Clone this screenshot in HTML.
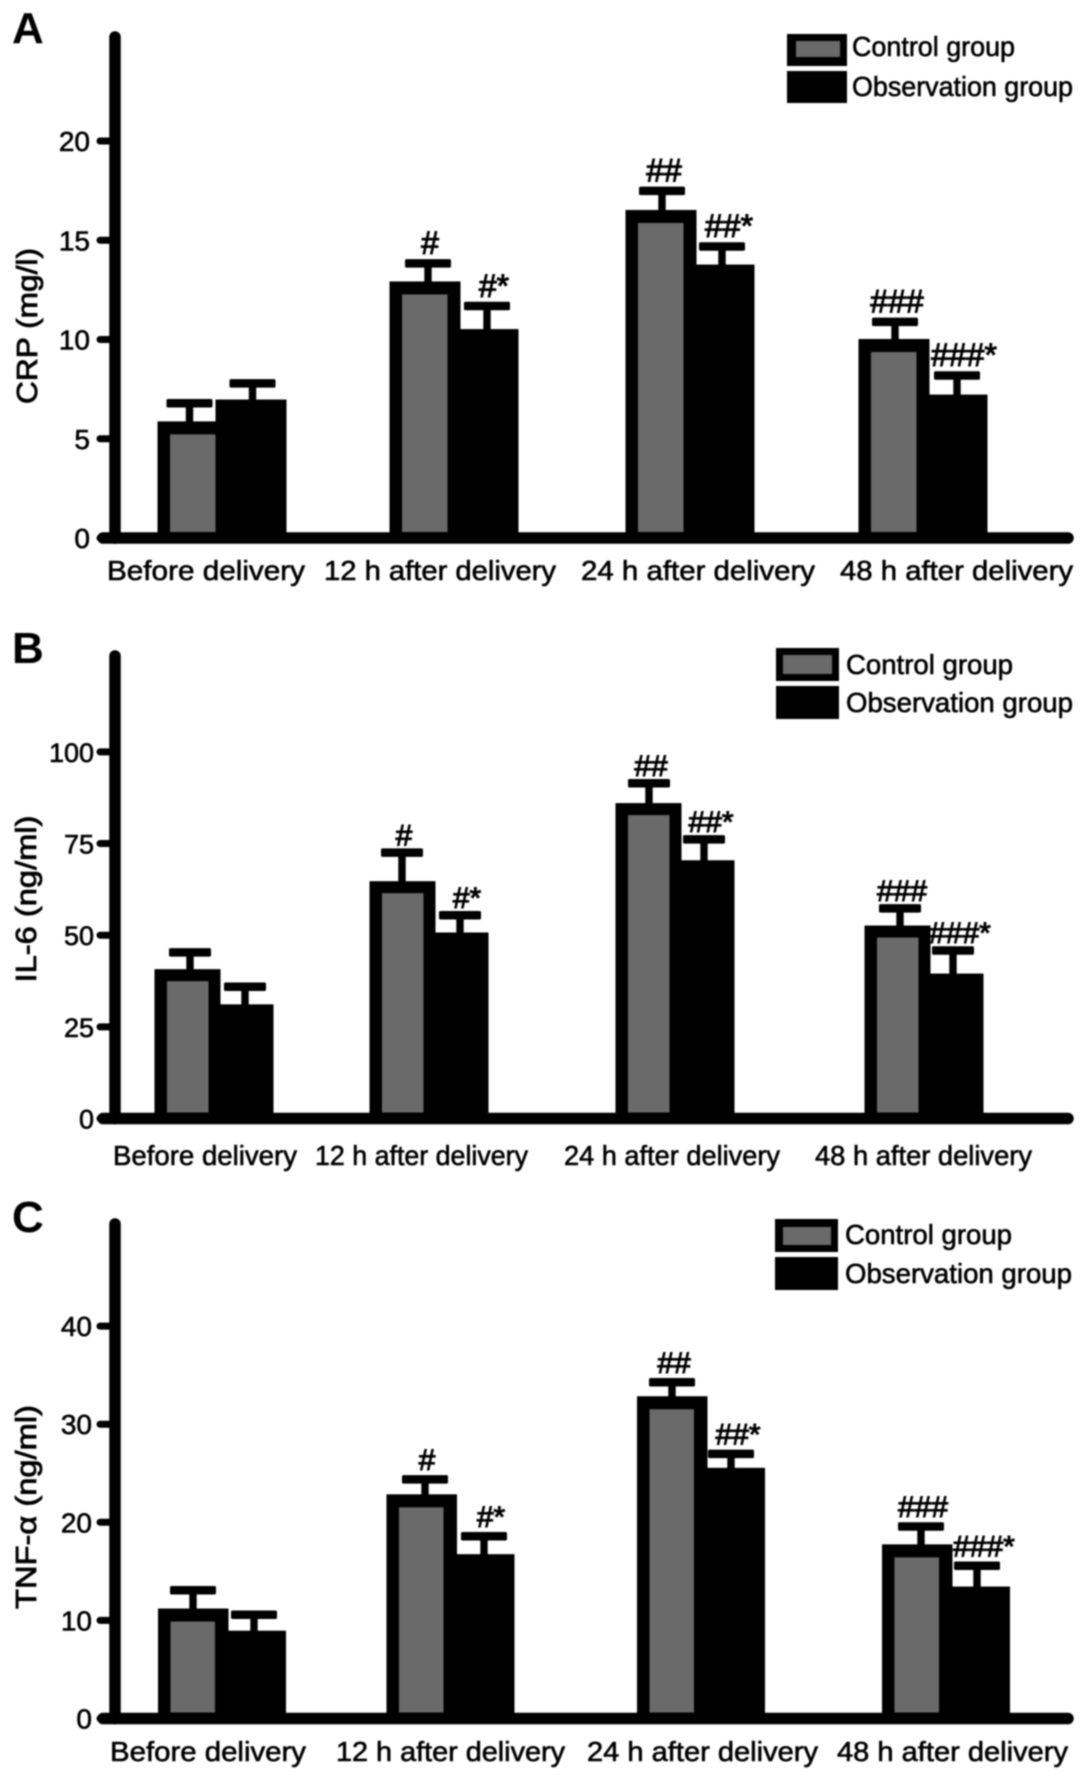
<!DOCTYPE html>
<html lang="en">
<head>
<meta charset="utf-8">
<title>CRP, IL-6 and TNF-α by group</title>
<style>
  html, body { margin: 0; padding: 0; background: #fff; }
  body { width: 1087px; height: 1782px; overflow: hidden; }
  svg { display: block; filter: blur(0.8px); }
  text { font-family: "Liberation Sans", "DejaVu Sans", sans-serif; fill: #000; stroke: #000; stroke-width: 0.6px; }
  .panel-letter { font-weight: bold; font-size: 44px; stroke-width: 0; }
  .legend-text { font-size: 28px; }
  .axis-title { font-size: 29px; stroke-width: 0.8px; }
  .mark { stroke-width: 1px; }
</style>
</head>
<body>
<svg id="figure" xmlns="http://www.w3.org/2000/svg" width="1087" height="1782" viewBox="0 0 1087 1782">
  <rect x="0" y="0" width="1087" height="1782" fill="#ffffff"/>

  <g id="panel-a">
    <text class="panel-letter" x="12" y="43">A</text>
    <text class="axis-title" transform="translate(37,326) rotate(-90)" text-anchor="middle" textLength="156" lengthAdjust="spacingAndGlyphs">CRP (mg/l)</text>
    <g>
      <rect x="787" y="34" width="60" height="32" fill="#000"/>
      <rect x="796" y="41" width="44" height="16" fill="#6a6a6a"/>
      <rect x="787" y="71" width="60" height="32" fill="#000"/>
      <text class="legend-text" x="852" y="56" textLength="163" lengthAdjust="spacingAndGlyphs">Control group</text>
      <text class="legend-text" x="852" y="96" textLength="221" lengthAdjust="spacingAndGlyphs">Observation group</text>
    </g>
  </g>

  <g id="panel-b">
    <text class="panel-letter" x="12" y="663">B</text>
    <text class="axis-title" transform="translate(36,899) rotate(-90)" text-anchor="middle" textLength="167" lengthAdjust="spacingAndGlyphs">IL-6 (ng/ml)</text>
    <g>
      <rect x="776" y="648" width="63" height="33" fill="#000"/>
      <rect x="783" y="655" width="49" height="19" fill="#6a6a6a"/>
      <rect x="776" y="686" width="63" height="33" fill="#000"/>
      <text class="legend-text" x="846" y="674" textLength="167" lengthAdjust="spacingAndGlyphs">Control group</text>
      <text class="legend-text" x="846" y="712" textLength="227" lengthAdjust="spacingAndGlyphs">Observation group</text>
    </g>
  </g>

  <g id="panel-c">
    <text class="panel-letter" x="12" y="1232">C</text>
    <text class="axis-title" transform="translate(36,1507) rotate(-90)" text-anchor="middle" textLength="204" lengthAdjust="spacingAndGlyphs">TNF-α (ng/ml)</text>
    <g>
      <rect x="775" y="1219" width="63" height="33" fill="#000"/>
      <rect x="783" y="1227" width="48" height="18" fill="#6a6a6a"/>
      <rect x="775" y="1257" width="63" height="33" fill="#000"/>
      <text class="legend-text" x="845" y="1244" textLength="167" lengthAdjust="spacingAndGlyphs">Control group</text>
      <text class="legend-text" x="845" y="1283" textLength="227" lengthAdjust="spacingAndGlyphs">Observation group</text>
    </g>
  </g>
</svg>

<script>
const categories = ['Before delivery', '12 h after delivery', '24 h after delivery', '48 h after delivery'];
const controlMarks = ['', '#', '##', '###'];
const observationMarks = ['', '#*', '##*', '###*'];

const crpTicks = [0, 5, 10, 15, 20];
const crpControl = [5.85, 12.9, 16.5, 10.0];
const crpObservation = [6.95, 10.5, 13.75, 7.2];
const crpControlUpper = [6.8, 13.85, 17.5, 10.9];
const crpObservationUpper = [7.8, 11.7, 14.7, 8.2];

const il6Ticks = [0, 25, 50, 75, 100];
const il6Control = [40.6, 64.6, 85.9, 52.5];
const il6Observation = [31, 50.6, 70.3, 39.4];
const il6ControlUpper = [45.4, 72.6, 91.5, 57.4];
const il6ObservationUpper = [36, 55.5, 76.2, 45.9];

const tnfTicks = [0, 10, 20, 30, 40];
const tnfControl = [11.16, 22.8, 32.8, 17.7];
const tnfObservation = [8.9, 16.7, 25.5, 13.4];
const tnfControlUpper = [13.1, 24.4, 34.3, 19.6];
const tnfObservationUpper = [10.6, 18.6, 27, 15.6];

const SVG_NS = 'http://www.w3.org/2000/svg';

function make(parent, tag, attrs, text) {
  const node = document.createElementNS(SVG_NS, tag);
  Object.keys(attrs).forEach(function (k) { node.setAttribute(k, attrs[k]); });
  if (text !== undefined) node.textContent = text;
  parent.appendChild(node);
  return node;
}

function drawPanel(rootId, layout, ticks, control, observation, controlUpper, observationUpper) {
  const root = document.getElementById(rootId);
  const yScale = function (v) { return layout.y0 - v * layout.unit; };
  const bandCentre = function (i) { return layout.bands[i]; };
  const barTop = function (v) { return yScale(v) - 0.5; };
  const baselineTop = layout.y0 - 6;
  let el;

  el = make(root, 'line', { x1: 115, y1: layout.top, x2: 115, y2: layout.y0, stroke: '#000', 'stroke-width': 11.5, 'stroke-linecap': 'round' });
  
  

  ticks.forEach(function (t) {
    const tick = make(root, 'line', { x1: 100, y1: yScale(t), x2: 112, y2: yScale(t), stroke: '#000', 'stroke-width': 7, 'stroke-linecap': 'round' });
    
    
    const label = make(root, 'text', { x: layout.tickRight, y: yScale(t) + 10, 'text-anchor': 'end', 'font-size': layout.tickFont }, String(t));
    
    
  });

  categories.forEach(function (name, i) {
    const mid = bandCentre(i);

    const ctrlCapX = mid + layout.ctrlCap[i];
    const ctrlTop = barTop(control[i]);
    const ctrlUp = yScale(controlUpper[i]);
    const ctrlStem = make(root, 'rect', { x: ctrlCapX - 3.7, y: ctrlUp, width: 7.4, height: ctrlTop - ctrlUp + 2, fill: '#000' });
    
    
    const ctrlCap = make(root, 'rect', { x: ctrlCapX - layout.capHalf, y: ctrlUp - 4, width: layout.capHalf * 2, height: 8.5, rx: 1.5, fill: '#000' });
    
    

    const obsCapX = mid + layout.obsCap[i];
    const obsTop = barTop(observation[i]);
    const obsUp = yScale(observationUpper[i]);
    const obsStem = make(root, 'rect', { x: obsCapX - 3.7, y: obsUp, width: 7.4, height: obsTop - obsUp + 2, fill: '#000' });
    
    
    const obsCap = make(root, 'rect', { x: obsCapX - layout.capHalf, y: obsUp - 4, width: layout.capHalf * 2, height: 8.5, rx: 1.5, fill: '#000' });
    
    

    const ctrlBar = make(root, 'rect', { x: mid - layout.half, y: ctrlTop, width: layout.half + 6.5, height: layout.y0 - ctrlTop, fill: '#000' });
    
    
    const innerTop = ctrlTop + layout.border;
    const ctrlFill = make(root, 'rect', { x: mid - layout.half + 12.5, y: innerTop, width: layout.grayW, height: Math.max(0, baselineTop - innerTop), fill: '#6a6a6a' });
    
    

    const gapStart = mid - layout.half + 12.5 + layout.grayW;
    const obsBar = make(root, 'rect', { x: gapStart, y: obsTop, width: mid + layout.half - gapStart, height: layout.y0 - obsTop, fill: '#000' });
    
    

    if (controlMarks[i]) {
      const mark = make(root, 'text', { class: 'mark', x: ctrlCapX + 2, y: ctrlUp - layout.markGap, 'text-anchor': 'middle', 'font-size': layout.markFont }, controlMarks[i]);
      
      
    }
    if (observationMarks[i]) {
      const mark2 = make(root, 'text', { class: 'mark', x: obsCapX + 7, y: obsUp - layout.markGap, 'text-anchor': 'middle', 'font-size': layout.markFont }, observationMarks[i]);
      
      
    }

    const cat = make(root, 'text', { x: layout.labelStart[i], y: layout.labelY, 'font-size': 28, textLength: layout.labelLen[i], lengthAdjust: 'spacingAndGlyphs' }, name);
    
    
  });

  el = make(root, 'line', { x1: 103, y1: layout.y0, x2: 1068, y2: layout.y0, stroke: '#000', 'stroke-width': 11.5, 'stroke-linecap': 'round' });
  
  
}

drawPanel('panel-a', {
  y0: 538, unit: 19.85, top: 37, tickRight: 90, tickFont: 28,
  bands: [222, 454, 690, 923], half: 64.5, grayW: 45.5, border: 13, capHalf: 23,
  ctrlCap: [-32.5, -26, -28, -28], obsCap: [30.5, 33, 32, 34],
  markGap: 9, markFont: 32,
  labelStart: [107, 324, 581, 840], labelLen: [198, 232, 234, 233], labelY: 580
}, crpTicks, crpControl, crpObservation, crpControlUpper, crpObservationUpper);

drawPanel('panel-b', {
  y0: 1118.5, unit: 3.666, top: 656, tickRight: 94, tickFont: 27,
  bands: [214, 429, 675, 924], half: 59.5, grayW: 41.5, border: 12, capHalf: 21,
  ctrlCap: [-24, -27, -26, -24], obsCap: [31, 31, 29, 29],
  markGap: 7, markFont: 30,
  labelStart: [113, 315, 564, 815], labelLen: [184, 213, 216, 217], labelY: 1165
}, il6Ticks, il6Control, il6Observation, il6ControlUpper, il6ObservationUpper);

drawPanel('panel-c', {
  y0: 1718.5, unit: 9.81, top: 1224, tickRight: 92, tickFont: 28,
  bands: [222, 450.5, 701, 946], half: 64, grayW: 44.5, border: 13, capHalf: 23,
  ctrlCap: [-29, -25.5, -29, -25], obsCap: [32, 33.5, 30, 31],
  markGap: 9, markFont: 30,
  labelStart: [110, 336, 587, 837], labelLen: [196, 229, 231, 231], labelY: 1761
}, tnfTicks, tnfControl, tnfObservation, tnfControlUpper, tnfObservationUpper);
</script>
</body>
</html>
